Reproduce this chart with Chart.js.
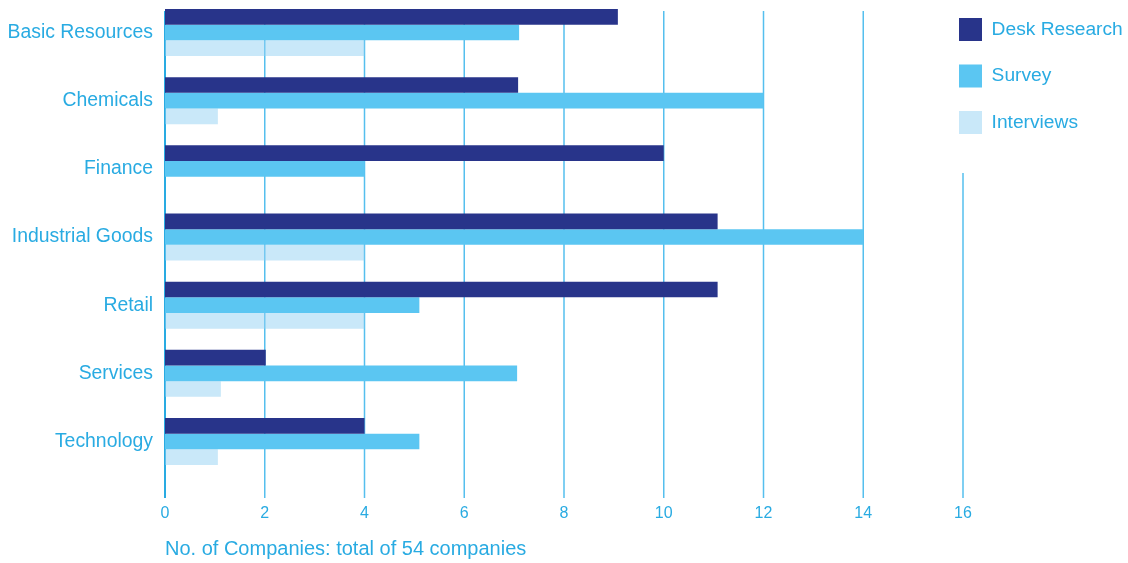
<!DOCTYPE html>
<html>
<head>
<meta charset="utf-8">
<script src="https://cdn.jsdelivr.net/npm/chart.js@4.4.1/dist/chart.umd.min.js"></script>
<style>
  html, body { margin: 0; padding: 0; background: #fff; }
  #wrap { position: relative; width: 1128px; height: 563px; overflow: hidden; }
  #c { position: absolute; left: 0; top: -20px; }
</style>
</head>
<body>
<div id="wrap"><canvas id="c" width="1128" height="583"></canvas></div>
<script>
const categories = ['Basic Resources', 'Chemicals', 'Finance', 'Industrial Goods', 'Retail', 'Services', 'Technology'];
const seriesNames = ['Desk Research', 'Survey', 'Interviews'];
const deskResearch = [9.08, 7.08, 10, 11.08, 11.08, 2.02, 4];
const survey = [7.1, 12, 4, 14, 5.1, 7.06, 5.1];
const interviews = [4, 1.06, 0, 4, 4, 1.12, 1.06];
const xTicks = [0, 2, 4, 6, 8, 10, 12, 14, 16];
const axisTitle = 'No. of Companies: total of 54 companies';

const TEXT = '#29abe2';
const FONT = "'Liberation Sans', Arial, sans-serif";
const OFF = 20; // canvas offset (page y = canvas y - OFF)

const gridPlugin = {
  id: 'customGrid',
  beforeDatasetsDraw(chart) {
    const ctx = chart.ctx, x = chart.scales.x;
    ctx.save();
    xTicks.forEach(v => {
      const px = x.getPixelForValue(v);
      const top = (v === 16 ? 173 : 11) + OFF;
      const bottom = 498 + OFF;
      ctx.beginPath();
      ctx.strokeStyle = v === 0 ? '#29abe2' : '#55bfee';
      ctx.lineWidth = v === 0 ? 2 : 1.5;
      ctx.moveTo(px, top);
      ctx.lineTo(px, bottom);
      ctx.stroke();
    });
    ctx.restore();
  }
};

const legendMove = {
  id: 'legendMove',
  afterLayout(chart) {
    const lg = chart.legend;
    if (!lg) return;
    const w = lg.width;
    lg.left = 935.5;
    lg.right = lg.left + w;
    lg.top = -5.5 + OFF;
  }
};

new Chart(document.getElementById('c'), {
  type: 'bar',
  data: {
    labels: categories,
    datasets: [
      { label: seriesNames[0], data: deskResearch, backgroundColor: '#28348a' },
      { label: seriesNames[1], data: survey, backgroundColor: '#5bc6f2' },
      { label: seriesNames[2], data: interviews, backgroundColor: 'rgba(147,209,243,0.5)' }
    ]
  },
  plugins: [gridPlugin, legendMove],
  options: {
    indexAxis: 'y',
    responsive: false,
    devicePixelRatio: 1,
    animation: false,
    layout: { padding: { top: 18.4, right: 165, bottom: 0, left: 0 } },
    datasets: { bar: { categoryPercentage: 0.69, barPercentage: 1.0, borderWidth: 0 } },
    scales: {
      x: {
        type: 'linear',
        min: 0, max: 16,
        ticks: { stepSize: 2, color: TEXT, font: { family: FONT, size: 16 }, padding: 28 },
        grid: { display: false, drawTicks: false },
        border: { display: false },
        title: { display: true, text: axisTitle, align: 'start', color: TEXT,
                 font: { family: FONT, size: 20 }, padding: { top: 0, bottom: 2 } },
        afterFit(s) { s.height = 87.4; }
      },
      y: {
        ticks: { color: TEXT, font: { family: FONT, size: 19.4 }, padding: 12 },
        grid: { display: false, drawTicks: false },
        border: { display: false },
        afterFit(s) { s.width = 165; s.paddingTop = 0; s.paddingBottom = 0; }
      }
    },
    plugins: {
      legend: {
        position: 'chartArea',
        align: 'start',
        labels: {
          boxWidth: 23, boxHeight: 23, padding: 23.5,
          color: TEXT, font: { family: FONT, size: 19.2 }
        }
      },
      tooltip: { enabled: false }
    }
  }
});
</script>
</body>
</html>
